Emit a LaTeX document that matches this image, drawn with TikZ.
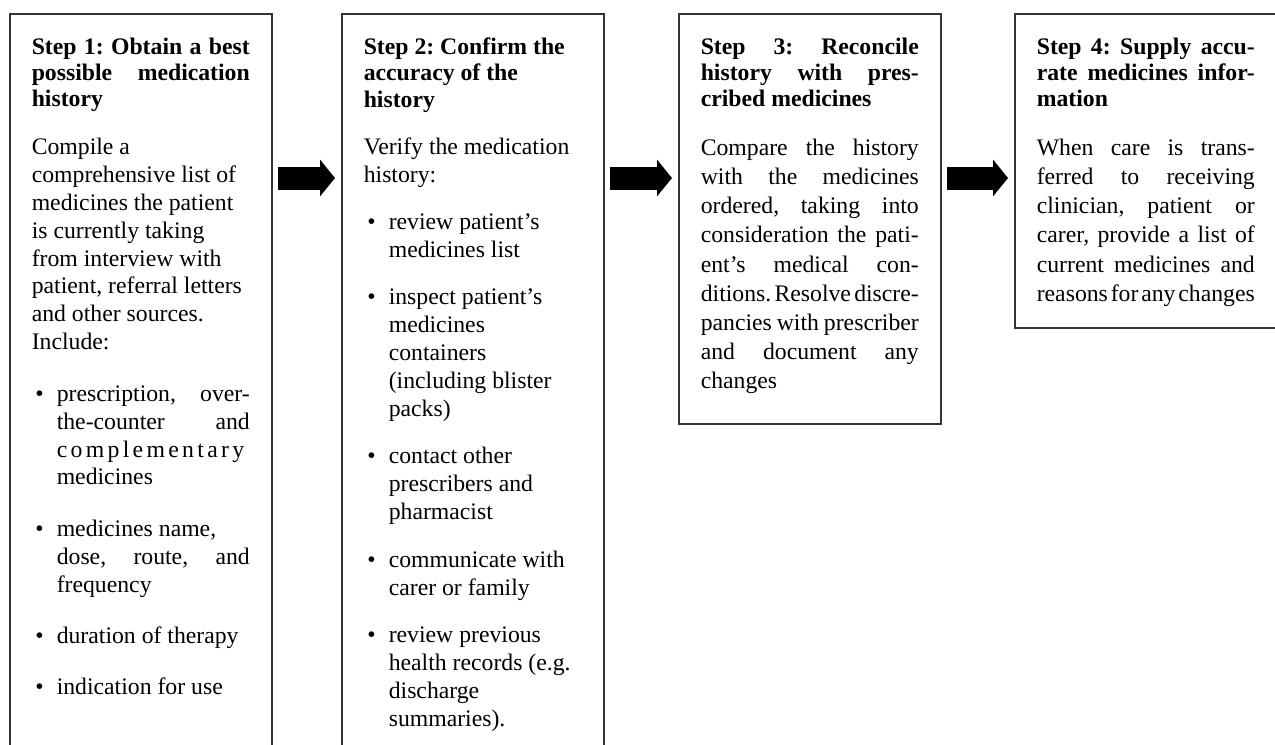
\documentclass[tikz,border=0pt]{standalone}
\usepackage{fontspec}
\setmainfont{Liberation Serif}
\usepackage{tikz}
\usetikzlibrary{arrows.meta}

\newcommand{\stephead}[1]{{\fontsize{13.5}{15}\selectfont\bfseries #1\par}\vspace{11pt}}
\newcommand{\bitem}[1][11pt]{\par\vspace{#1}\hangindent=0.5cm\hangafter=0\noindent\llap{\textbullet\hspace{0.26cm}}\ignorespaces}
\newcommand{\spaced}[1]{{\addfontfeature{LetterSpace=14}#1}}
\newcommand{\fitline}[1]{\hbox to\linewidth{\spaceskip=0pt plus 1fil\relax #1}}

\tikzset{
  stepbox/.style={draw=black!80, line width=0.9pt, anchor=north west,
    text width=4.36cm, inner xsep=0.44cm, inner ysep=0.48cm, align=justify,
    font=\fontsize{13.5}{15.9}\selectfont\frenchspacing},
  blockarrow/.style={line width=0.46cm, -{Triangle[length=0.3cm, width=0.72cm]},
    shorten <=0.1cm, shorten >=0.12cm}
}

\begin{document}
\begin{tikzpicture}
  \clip (0,0) rectangle (25.5,-14.88);

  % the four steps
  \node[stepbox] (s1) at (0.18,-0.26) {%
    \stephead{Step 1: Obtain a best\linebreak possible medication\linebreak history}
    Compile a\newline comprehensive list of\newline medicines the patient\newline
    is currently taking\newline from interview with\newline patient, referral letters\newline
    and other sources.\newline Include:
    \bitem[13.3pt] prescription, over-\linebreak the-counter and\linebreak \spaced{complementary}\newline medicines
    \bitem[13.3pt] medicines name,\newline dose, route, and\linebreak frequency
    \bitem[13.3pt] duration of therapy
    \bitem[13.3pt] indication for use\par\kern2cm};

  \node[stepbox] (s2) at (6.82,-0.26) {%
    \stephead{Step 2: Confirm the\newline accuracy of the\newline history}
    Verify the medication\newline history:
    \bitem review patient's\newline medicines list
    \bitem inspect patient's\newline medicines\newline containers\newline (including blister\newline packs)
    \bitem contact other\newline prescribers and\newline pharmacist
    \bitem communicate with\newline carer or family
    \bitem review previous\newline health records (e.g.\newline discharge\newline summaries).\par\kern1cm};

  \node[stepbox, font=\fontsize{13.5}{16.6}\selectfont\frenchspacing] (s3) at (13.56,-0.26) {%
    \stephead{Step 3: Reconcile\linebreak history with pres-\linebreak cribed medicines}
    Compare the history\linebreak with the medicines\linebreak ordered, taking into\linebreak
    consideration the pati-\linebreak ent's medical con-\linebreak \fitline{ditions. Resolve discre-}\newline
    \fitline{pancies with prescriber}\newline and document any\linebreak changes\par\kern3.3pt};

  \node[stepbox, font=\fontsize{13.5}{16.6}\selectfont\frenchspacing] (s4) at (20.28,-0.26) {%
    \stephead{Step 4: Supply accu-\linebreak rate medicines infor-\linebreak mation}
    When care is trans-\linebreak ferred to receiving\linebreak clinician, patient or\linebreak
    carer, provide a list of\linebreak current medicines and\linebreak \fitline{reasons for any changes}\par\kern-1.3pt};

  % arrows between steps
  \draw[blockarrow] ([yshift=-3.3cm]s1.north east) -- ([yshift=-3.3cm]s2.north west);
  \draw[blockarrow] ([yshift=-3.3cm]s2.north east) -- ([yshift=-3.3cm]s3.north west);
  \draw[blockarrow] ([yshift=-3.3cm]s3.north east) -- ([yshift=-3.3cm]s4.north west);
\end{tikzpicture}
\end{document}
